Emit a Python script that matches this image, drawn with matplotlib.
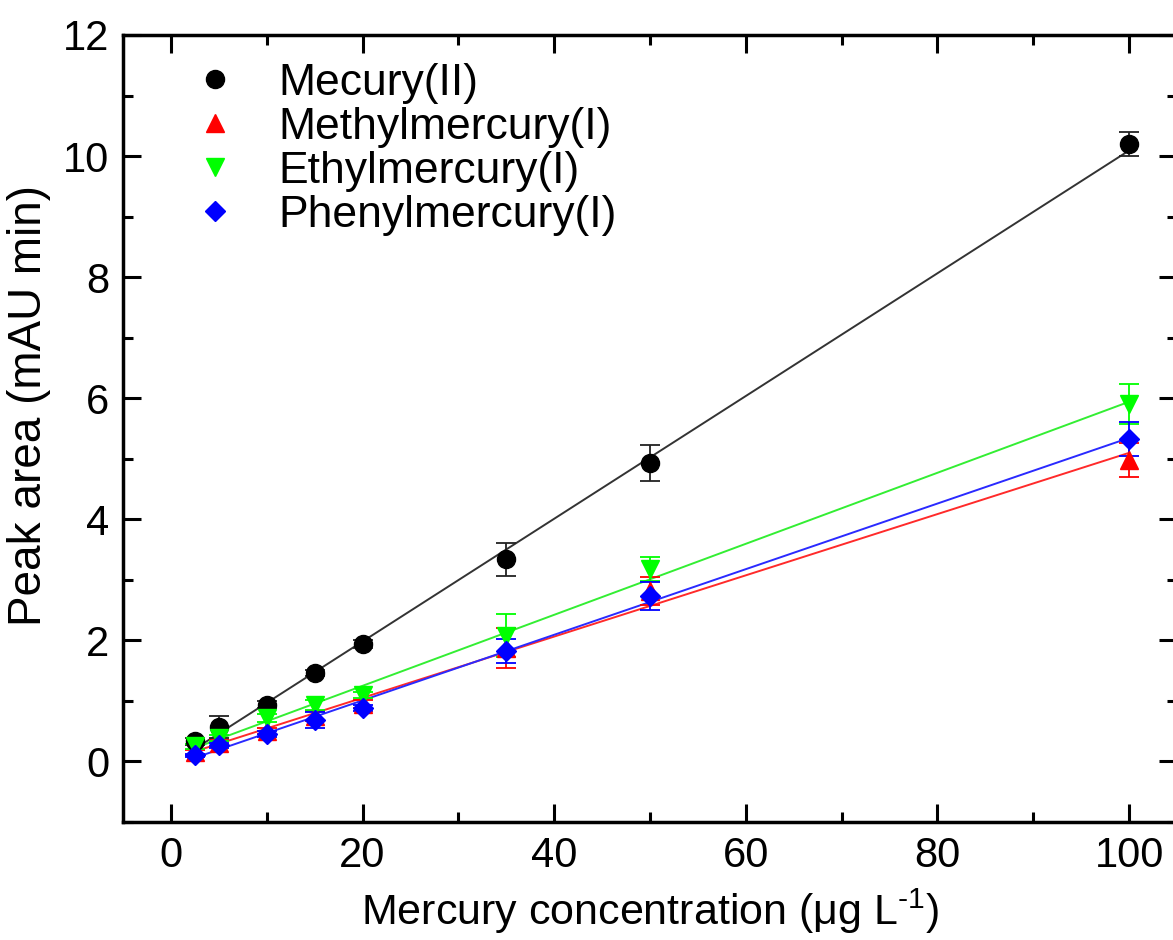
import numpy as np
import matplotlib
matplotlib.use("Agg")
import matplotlib.pyplot as plt
from matplotlib.ticker import MultipleLocator
from matplotlib.lines import Line2D

plt.rcParams['font.family'] = ['Liberation Sans', 'DejaVu Sans']
plt.rcParams['mathtext.fontset'] = 'custom'
plt.rcParams['mathtext.rm'] = 'Liberation Sans'
plt.rcParams['mathtext.it'] = 'Liberation Sans:italic'

# ---- data ----
conc = [2.5, 5, 10, 15, 20, 35, 50, 100]
hg2 = [0.33, 0.57, 0.94, 1.46, 1.94, 3.34, 4.93, 10.2]
hg2_err = [0.05, 0.18, 0.06, 0.05, 0.06, 0.27, 0.30, 0.20]
mehg = [0.15, 0.30, 0.50, 0.75, 0.95, 1.88, 2.82, 4.98]
mehg_err = [0.04, 0.05, 0.05, 0.08, 0.06, 0.33, 0.23, 0.28]
ethg = [0.25, 0.38, 0.72, 0.93, 1.10, 2.08, 3.18, 5.90]
ethg_err = [0.04, 0.05, 0.06, 0.08, 0.05, 0.36, 0.20, 0.33]
phhg = [0.10, 0.27, 0.45, 0.68, 0.88, 1.83, 2.74, 5.32]
phhg_err = [0.03, 0.04, 0.05, 0.13, 0.05, 0.20, 0.23, 0.28]
labels = ['Mecury(II)', 'Methylmercury(I)', 'Ethylmercury(I)', 'Phenylmercury(I)']

series = [
    (hg2, hg2_err, 'black', 'o', 13, '#333333'),
    (mehg, mehg_err, '#ff0000', '^', 13, '#ff2a2a'),
    (ethg, ethg_err, '#00ff00', 'v', 13, '#33ee33'),
    (phhg, phhg_err, '#0000ff', 'D', 10.5, '#2a2aff'),
]

fig = plt.figure(figsize=(11.73, 9.40), dpi=100)
ax = fig.add_axes([123/1173, 1 - 822/940, (1177 - 123)/1173, (822 - 35)/940])

x = np.array(conc)
for (y, e, c, m, ms, lc) in series:
    y = np.array(y)
    k, b = np.polyfit(x, y, 1)
    xx = np.array([x.min(), x.max()])
    ax.plot(xx, k * xx + b, color=lc, lw=1.4, zorder=2)

for (y, e, c, m, ms, lc), lab in zip(series, labels):
    ax.errorbar(conc, y, yerr=e, fmt=m, color=c, ms=ms, mec=c,
                ecolor=c if c != 'black' else '#222222', elinewidth=1.3,
                capsize=7, capthick=1.3, label=lab, zorder=3)

ax.set_xlim(-5, 105)
ax.set_ylim(-1, 12)
ax.xaxis.set_major_locator(MultipleLocator(20))
ax.xaxis.set_minor_locator(MultipleLocator(10))
ax.yaxis.set_major_locator(MultipleLocator(2))
ax.yaxis.set_minor_locator(MultipleLocator(1))
ax.tick_params(which='both', direction='in', top=True, right=True, width=2.2,
               labelsize=30, pad=10)
ax.tick_params(which='major', length=13)
ax.tick_params(which='minor', length=7)
for s in ax.spines.values():
    s.set_linewidth(2.5)

ax.set_xlabel(r'Mercury concentration (μg L$^{\text{-1}}$)', fontsize=31, labelpad=8)
ax.set_ylabel('Peak area (mAU min)', fontsize=33)
ax.yaxis.set_label_coords(-0.068, 0.529)

hs = [Line2D([], [], ls='none', marker=m, color=c, ms=ms * (1.0 if m != 'D' else 0.95))
      for (y, e, c, m, ms, lc) in series]
ax.legend(hs, labels, loc='upper left', frameon=False, fontsize=32,
          labelspacing=0.07, handletextpad=0.92, handlelength=1.0,
          borderpad=0, borderaxespad=0,
          bbox_to_anchor=(0.0664, 0.965))

fig.savefig('out.png', dpi=100)
